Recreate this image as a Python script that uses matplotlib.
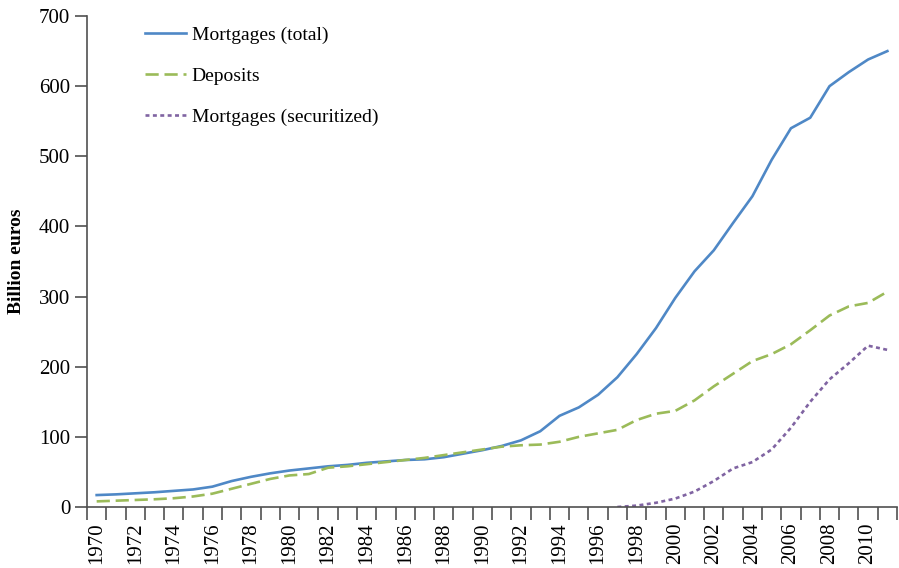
import numpy as np
import matplotlib
matplotlib.use('Agg')
import matplotlib.pyplot as plt

plt.rcParams['font.family'] = ['Liberation Serif', 'DejaVu Serif']

# Yearly values (billion euros)
years = list(range(1970, 2012))
mortgages_total = [17, 18, 19.5, 21, 23, 25, 29, 37, 43, 48,
                   52, 55, 58, 60, 63, 65, 67, 68, 71, 76,
                   81, 87, 95, 108, 130, 142, 160, 185, 218, 255,
                   298, 336, 366, 405, 443, 495, 540, 555, 600, 620,
                   638, 650]
deposits = [8, 9, 10, 11, 12.5, 15, 19, 26, 33, 40,
            45, 47, 56, 58, 61, 64, 67, 70, 74, 78,
            82, 86, 88, 89, 93, 100, 105, 110, 124, 133,
            137, 152, 172, 190, 208, 218, 232, 252, 273, 286,
            291, 307]
sec_years = list(range(1997, 2012))
mortgages_sec = [0, 2, 6, 12, 22, 37, 55, 64, 82, 113, 150, 182, 205, 230, 224]

fig = plt.figure(figsize=(8.99, 5.68), dpi=100)
ax = fig.add_axes([0.0968, 0.1074, 0.901, 0.8644])

lw = 1.9
ax.plot(years, mortgages_total, color='#4F88C6', linewidth=lw, label='Mortgages (total)')
ax.plot(years, deposits, color='#9BBB59', linewidth=lw, dashes=(5, 2.2), label='Deposits')
ax.plot(sec_years, mortgages_sec, color='#8064A2', linewidth=lw, dashes=(1.5, 1.3), label='Mortgages (securitized)')

ax.set_xlim(1969.5, 2011.5)
ax.set_ylim(0, 700)
ax.set_yticks(range(0, 701, 100))

# Category-style axis: tick marks between years, labels centred on even years
ax.set_xticks(np.arange(1969.5, 2012, 1))
ax.set_xticklabels([])
ax.set_xticks(range(1970, 2011, 2), minor=True)
ax.set_xticklabels([str(y) for y in range(1970, 2011, 2)], minor=True, rotation=90)
ax.tick_params(axis='x', which='minor', length=0, pad=11, labelsize=15)
ax.tick_params(axis='x', which='major', length=9, width=1.2, color='#505050', direction='out')
ax.tick_params(axis='y', length=9, width=1.2, color='#505050', labelsize=15, pad=3)

for side in ['top', 'right']:
    ax.spines[side].set_visible(False)
for side in ['left', 'bottom']:
    ax.spines[side].set_color('#505050')
    ax.spines[side].set_linewidth(1.2)

ax.set_ylabel('Billion euros', fontsize=14, fontweight='bold', labelpad=10)

leg = ax.legend(loc='upper left', bbox_to_anchor=(0.05, 1.015), frameon=False,
                fontsize=14, handlelength=2.1, labelspacing=1.2, handletextpad=0.3)

fig.savefig('out.png', dpi=100)
